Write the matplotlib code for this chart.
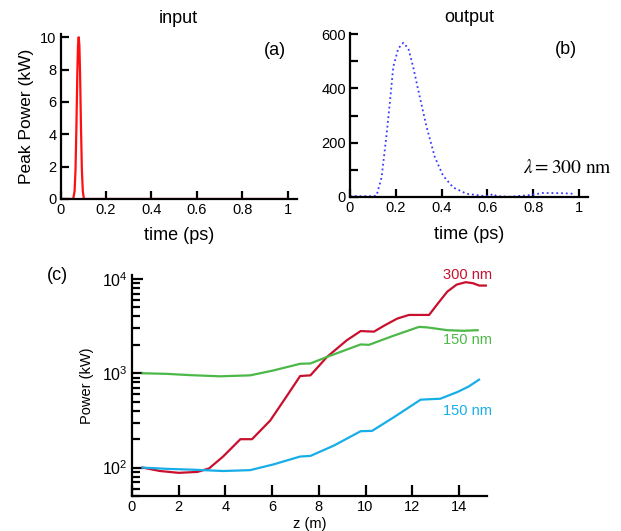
import math
import matplotlib
matplotlib.use("Agg")
import matplotlib.pyplot as plt
from matplotlib.ticker import FixedLocator, FuncFormatter, LogLocator

plt.rcParams['font.family'] = ['Liberation Sans', 'DejaVu Sans']
plt.rcParams['mathtext.fontset'] = 'custom'
plt.rcParams['mathtext.rm'] = 'Liberation Sans'
plt.rcParams['mathtext.it'] = 'Liberation Sans:italic'

# ---- data: panel (a) input pulse ----
t_in = [0.0, 0.056, 0.062, 0.066, 0.070, 0.074, 0.077, 0.080, 0.083, 0.086, 0.090, 0.094, 0.098, 0.103, 1.0]
p_in = [0.0, 0.0, 0.5, 1.8, 4.5, 7.8, 9.5, 10.0, 9.5, 7.8, 4.5, 1.8, 0.5, 0.0, 0.0]

# ---- data: panel (b) output pulse ----
t_out = [0.0, 0.05, 0.10, 0.116, 0.138, 0.16, 0.175, 0.189, 0.211, 0.233, 0.255, 0.276,
         0.305, 0.335, 0.371, 0.407, 0.451, 0.509, 0.582, 0.610, 0.625, 0.640, 0.698,
         0.786, 0.844, 0.931, 0.975]
p_out = [3, 3, 3, 5, 72, 232, 355, 479, 547, 568, 547, 479,
         368, 257, 146, 78, 35, 12, 4, 4, 12, 3, 1,
         7, 15, 14, 12]

# ---- data: panel (c) power evolution ----
z_red = [0.45, 1.2, 2.0, 2.8, 3.3, 3.9, 4.64, 5.14, 5.92, 6.6, 7.2, 7.64, 8.35, 9.2, 9.79,
         10.36, 10.8, 11.36, 11.86, 12.72, 13.1, 13.5, 13.9, 14.29, 14.6, 14.87, 15.15]
p_red = [100, 92, 88, 90, 98, 131, 200, 200, 316, 560, 935, 950, 1490, 2240, 2800,
         2760, 3200, 3800, 4150, 4150, 5500, 7330, 8700, 9230, 9000, 8500, 8500]

z_grn = [0.45, 1.5, 2.49, 3.78, 5.06, 6.05, 7.2, 7.64, 8.35, 9.79, 10.14, 11.2, 12.29,
         12.65, 13.5, 14.2, 14.8]
p_grn = [1000, 985, 955, 928, 950, 1070, 1260, 1270, 1490, 2020, 2000, 2500, 3100,
         3060, 2860, 2820, 2860]

z_blu = [0.45, 1.5, 2.62, 3.9, 5.06, 6.05, 7.2, 7.64, 8.64, 9.79, 10.28, 11.22, 12.36,
         13.2, 13.93, 14.4, 14.86]
p_blu = [100, 97, 95, 92, 94, 108, 131, 133, 171, 243, 245, 343, 525,
         537, 632, 720, 855]

labels_c = ["300 nm", "150 nm", "150 nm"]

RED_A = '#ff1010'
BLUE_B = '#3a3aff'
C_RED = '#c8102e'
C_GRN = '#4cb848'
C_BLU = '#17aee8'

fig = plt.figure(figsize=(6.21, 5.31), dpi=100)

def style(ax, ls=10.5):
    for s in ['top', 'right']:
        ax.spines[s].set_visible(False)
    for s in ['left', 'bottom']:
        ax.spines[s].set_linewidth(1.6)
    ax.tick_params(which='major', direction='in', length=6, width=1.6, labelsize=ls, pad=3)
    ax.tick_params(which='minor', direction='in', length=3.5, width=1.6)

def tfmt(v, p):
    if v == 0:
        return '0'
    if v == 1:
        return '1'
    return f'{v:.1f}'

# (a)
axa = fig.add_axes([60.5/621, 1-199/531, (297-60.5)/621, (199-34)/531])
axa.plot(t_in, p_in, color=RED_A, lw=1.6)
axa.set_xlim(0, 1.04)
axa.set_ylim(0, 10.2)
axa.xaxis.set_major_locator(FixedLocator([0, 0.2, 0.4, 0.6, 0.8, 1.0]))
axa.yaxis.set_major_locator(FixedLocator([0, 2, 4, 6, 8, 10]))
axa.xaxis.set_major_formatter(FuncFormatter(tfmt))
style(axa)
axa.set_xlabel('time (ps)', fontsize=13, labelpad=7)
axa.set_ylabel('Peak Power (kW)', fontsize=12.5, labelpad=4)
axa.set_title('input', fontsize=13, pad=8)
axa.text(0.955, 0.90, '(a)', transform=axa.transAxes, ha='right', va='center', fontsize=13)

# (b)
axb = fig.add_axes([350/621, 1-197/531, (588-350)/621, (197-33)/531])
axb.plot(t_out, p_out, color=BLUE_B, lw=1.3, ls=':')
axb.set_xlim(0, 1.04)
axb.set_ylim(0, 604)
axb.xaxis.set_major_locator(FixedLocator([0, 0.2, 0.4, 0.6, 0.8, 1.0]))
axb.yaxis.set_major_locator(FixedLocator([0, 200, 400, 600]))
axb.yaxis.set_minor_locator(FixedLocator([100, 300, 500]))
axb.xaxis.set_major_formatter(FuncFormatter(tfmt))
style(axb)
axb.tick_params(which='minor', length=6)
axb.set_xlabel('time (ps)', fontsize=13, labelpad=8)
axb.set_title('output', fontsize=13, pad=8)
axb.text(0.955, 0.90, '(b)', transform=axb.transAxes, ha='right', va='center', fontsize=13)
axb.text(0.915, 0.175, r'$\lambda = 300\ \mathrm{nm}$', transform=axb.transAxes, ha='center',
         va='center', fontsize=14, math_fontfamily='stix')

# (c)
axc = fig.add_axes([132/621, 1-496/531, (487-132)/621, (496-275)/531])
axc.plot(z_red, p_red, color=C_RED, lw=1.6)
axc.plot(z_grn, p_grn, color=C_GRN, lw=1.6)
axc.plot(z_blu, p_blu, color=C_BLU, lw=1.6)
axc.set_yscale('log')
axc.set_xlim(0, 15.2)
axc.set_ylim(50, 11000)
axc.xaxis.set_major_locator(FixedLocator([0, 2, 4, 6, 8, 10, 12, 14]))
axc.yaxis.set_major_locator(FixedLocator([100, 1000, 10000]))
axc.yaxis.set_minor_locator(LogLocator(base=10, subs=range(2, 10)))
axc.yaxis.set_minor_formatter(FuncFormatter(lambda v, p: ''))
axc.yaxis.set_major_formatter(FuncFormatter(lambda v, p: r'10$^{%d}$' % round(math.log10(v))))
style(axc, ls=10.5)
axc.tick_params(axis='y', which='major', length=8, labelsize=11.5)
axc.tick_params(axis='x', which='major', length=8)
axc.tick_params(which='minor', length=5.5)
axc.set_xlabel('z (m)', fontsize=10.5, labelpad=2)
axc.set_ylabel('Power (kW)', fontsize=10.5, labelpad=6)
fig.text(57/621, 1-275/531, '(c)', fontsize=13, ha='center', va='center')
axc.text(14.38, 11000, labels_c[0], color=C_RED, fontsize=10.5, ha='center', va='center')
axc.text(14.38, 2244, labels_c[1], color=C_GRN, fontsize=10.5, ha='center', va='center')
axc.text(14.38, 394, labels_c[2], color=C_BLU, fontsize=10.5, ha='center', va='center')

fig.savefig('out.png', dpi=100)
